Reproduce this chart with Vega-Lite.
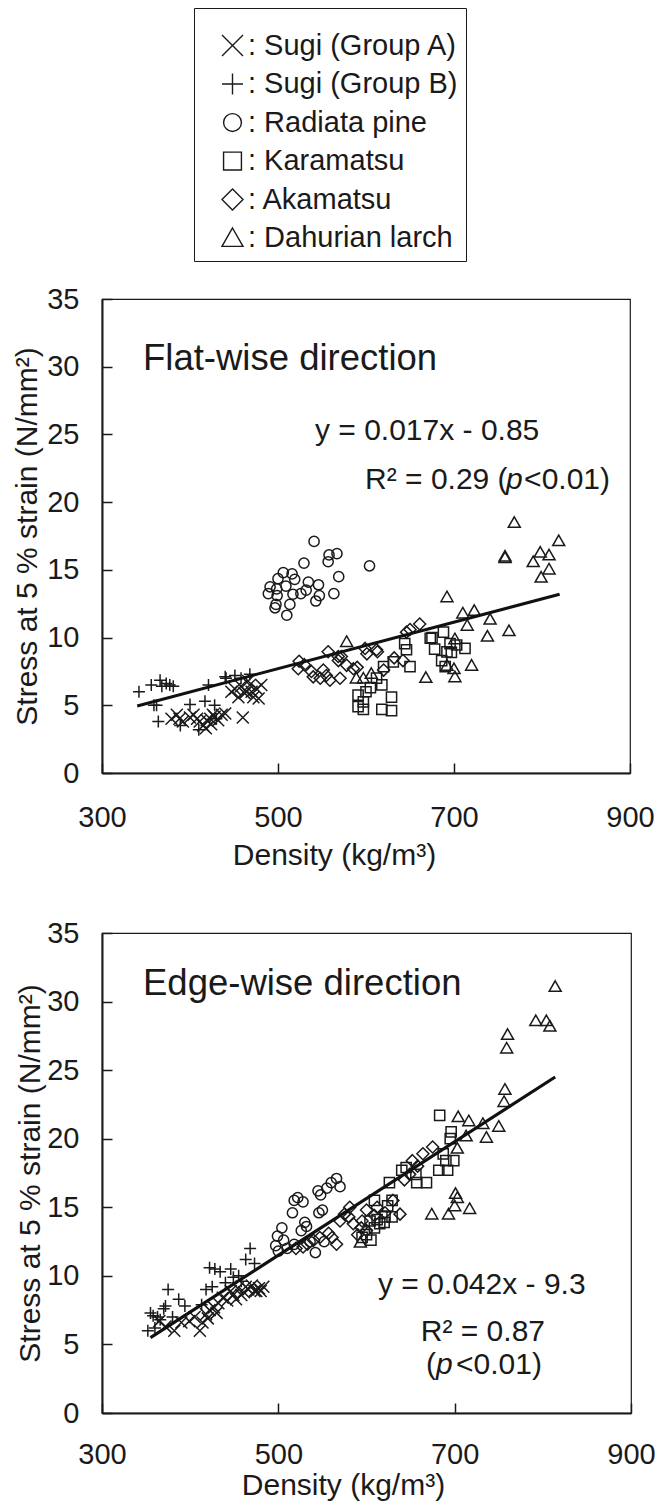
{
  "$schema": "https://vega.github.io/schema/vega-lite/v6.json",
  "padding": {"left": 12, "top": 6, "right": 4, "bottom": 2},
  "config": {
    "font": "Liberation Sans",
    "view": {"stroke": "#1a1a1a", "strokeWidth": 1.2},
    "axis": {"grid": false, "domainColor": "#1a1a1a", "domainWidth": 2, "tickColor": "#1a1a1a", "tickWidth": 1.5, "tickSize": -10, "labelFontSize": 29, "labelColor": "#1a1a1a", "titleFontSize": 30, "titleFontWeight": "normal", "titleColor": "#1a1a1a", "labelFlush": false, "labelOverlap": false},
    "axisY": {"labelPadding": 33}
  },
  "datasets": {
    "flat": [
      {"species": "Sugi (Group A)", "density": 379, "stress": 4.0},
      {"species": "Sugi (Group A)", "density": 385, "stress": 4.3},
      {"species": "Sugi (Group A)", "density": 388, "stress": 4.0},
      {"species": "Sugi (Group A)", "density": 392, "stress": 3.8},
      {"species": "Sugi (Group A)", "density": 400, "stress": 4.1},
      {"species": "Sugi (Group A)", "density": 404, "stress": 4.3},
      {"species": "Sugi (Group A)", "density": 408, "stress": 4.0},
      {"species": "Sugi (Group A)", "density": 411, "stress": 3.8},
      {"species": "Sugi (Group A)", "density": 415, "stress": 3.5},
      {"species": "Sugi (Group A)", "density": 419, "stress": 3.9},
      {"species": "Sugi (Group A)", "density": 423, "stress": 4.0},
      {"species": "Sugi (Group A)", "density": 426, "stress": 4.3},
      {"species": "Sugi (Group A)", "density": 428, "stress": 4.15},
      {"species": "Sugi (Group A)", "density": 432, "stress": 3.9},
      {"species": "Sugi (Group A)", "density": 436, "stress": 4.3},
      {"species": "Sugi (Group A)", "density": 440, "stress": 4.4},
      {"species": "Sugi (Group A)", "density": 418, "stress": 3.3},
      {"species": "Sugi (Group A)", "density": 424, "stress": 3.6},
      {"species": "Sugi (Group A)", "density": 460, "stress": 4.1},
      {"species": "Sugi (Group A)", "density": 447, "stress": 6.0},
      {"species": "Sugi (Group A)", "density": 451, "stress": 6.2},
      {"species": "Sugi (Group A)", "density": 455, "stress": 5.6},
      {"species": "Sugi (Group A)", "density": 458, "stress": 6.4},
      {"species": "Sugi (Group A)", "density": 462, "stress": 5.9},
      {"species": "Sugi (Group A)", "density": 464, "stress": 6.0},
      {"species": "Sugi (Group A)", "density": 466, "stress": 6.8},
      {"species": "Sugi (Group A)", "density": 468, "stress": 6.5},
      {"species": "Sugi (Group A)", "density": 472, "stress": 5.6},
      {"species": "Sugi (Group A)", "density": 476, "stress": 6.2},
      {"species": "Sugi (Group A)", "density": 478, "stress": 5.5},
      {"species": "Sugi (Group A)", "density": 481, "stress": 6.5},
      {"species": "Sugi (Group A)", "density": 470, "stress": 6.0},
      {"species": "Sugi (Group B)", "density": 342, "stress": 6.0},
      {"species": "Sugi (Group B)", "density": 356, "stress": 6.5},
      {"species": "Sugi (Group B)", "density": 366, "stress": 6.85},
      {"species": "Sugi (Group B)", "density": 368, "stress": 6.4},
      {"species": "Sugi (Group B)", "density": 373, "stress": 6.6},
      {"species": "Sugi (Group B)", "density": 377, "stress": 6.5},
      {"species": "Sugi (Group B)", "density": 381, "stress": 6.4},
      {"species": "Sugi (Group B)", "density": 359, "stress": 5.0},
      {"species": "Sugi (Group B)", "density": 362, "stress": 5.0},
      {"species": "Sugi (Group B)", "density": 364, "stress": 3.8},
      {"species": "Sugi (Group B)", "density": 389, "stress": 3.5},
      {"species": "Sugi (Group B)", "density": 400, "stress": 5.05},
      {"species": "Sugi (Group B)", "density": 410, "stress": 3.2},
      {"species": "Sugi (Group B)", "density": 417, "stress": 5.3},
      {"species": "Sugi (Group B)", "density": 421, "stress": 6.5},
      {"species": "Sugi (Group B)", "density": 428, "stress": 5.0},
      {"species": "Sugi (Group B)", "density": 430, "stress": 4.0},
      {"species": "Sugi (Group B)", "density": 440, "stress": 7.1},
      {"species": "Sugi (Group B)", "density": 441, "stress": 7.0},
      {"species": "Sugi (Group B)", "density": 451, "stress": 7.2},
      {"species": "Sugi (Group B)", "density": 458, "stress": 7.0},
      {"species": "Sugi (Group B)", "density": 468, "stress": 7.3},
      {"species": "Radiata pine", "density": 541, "stress": 17.1},
      {"species": "Radiata pine", "density": 529.5, "stress": 15.5},
      {"species": "Radiata pine", "density": 558, "stress": 16.1},
      {"species": "Radiata pine", "density": 567, "stress": 16.2},
      {"species": "Radiata pine", "density": 557, "stress": 15.6},
      {"species": "Radiata pine", "density": 604, "stress": 15.3},
      {"species": "Radiata pine", "density": 569, "stress": 14.5},
      {"species": "Radiata pine", "density": 506, "stress": 14.8},
      {"species": "Radiata pine", "density": 516, "stress": 14.7},
      {"species": "Radiata pine", "density": 500, "stress": 14.35},
      {"species": "Radiata pine", "density": 519, "stress": 14.3},
      {"species": "Radiata pine", "density": 534.5, "stress": 14.1},
      {"species": "Radiata pine", "density": 546, "stress": 13.9},
      {"species": "Radiata pine", "density": 491, "stress": 13.75},
      {"species": "Radiata pine", "density": 509, "stress": 13.8},
      {"species": "Radiata pine", "density": 498.5, "stress": 13.6},
      {"species": "Radiata pine", "density": 489, "stress": 13.25},
      {"species": "Radiata pine", "density": 499, "stress": 13.1},
      {"species": "Radiata pine", "density": 517, "stress": 13.2},
      {"species": "Radiata pine", "density": 526, "stress": 13.25},
      {"species": "Radiata pine", "density": 532, "stress": 13.5},
      {"species": "Radiata pine", "density": 547, "stress": 13.1},
      {"species": "Radiata pine", "density": 563.5, "stress": 13.25},
      {"species": "Radiata pine", "density": 543, "stress": 12.7},
      {"species": "Radiata pine", "density": 513.5, "stress": 12.45},
      {"species": "Radiata pine", "density": 497.7, "stress": 12.45},
      {"species": "Radiata pine", "density": 496.6, "stress": 12.2},
      {"species": "Radiata pine", "density": 510, "stress": 11.65},
      {"species": "Karamatsu", "density": 591, "stress": 5.75},
      {"species": "Karamatsu", "density": 597, "stress": 5.25},
      {"species": "Karamatsu", "density": 591, "stress": 4.9},
      {"species": "Karamatsu", "density": 597, "stress": 4.7},
      {"species": "Karamatsu", "density": 618, "stress": 4.7},
      {"species": "Karamatsu", "density": 629, "stress": 4.6},
      {"species": "Karamatsu", "density": 618, "stress": 6.5},
      {"species": "Karamatsu", "density": 620, "stress": 7.85},
      {"species": "Karamatsu", "density": 629, "stress": 5.6},
      {"species": "Karamatsu", "density": 631, "stress": 8.2},
      {"species": "Karamatsu", "density": 644, "stress": 9.55},
      {"species": "Karamatsu", "density": 646, "stress": 9.1},
      {"species": "Karamatsu", "density": 650, "stress": 7.85},
      {"species": "Karamatsu", "density": 673, "stress": 9.95},
      {"species": "Karamatsu", "density": 675, "stress": 10.0},
      {"species": "Karamatsu", "density": 688, "stress": 10.4},
      {"species": "Karamatsu", "density": 678, "stress": 9.15},
      {"species": "Karamatsu", "density": 692, "stress": 8.95},
      {"species": "Karamatsu", "density": 695.5, "stress": 9.55},
      {"species": "Karamatsu", "density": 697, "stress": 8.9},
      {"species": "Karamatsu", "density": 703, "stress": 9.45},
      {"species": "Karamatsu", "density": 712.5, "stress": 9.2},
      {"species": "Karamatsu", "density": 690, "stress": 7.85},
      {"species": "Karamatsu", "density": 605, "stress": 6.3},
      {"species": "Karamatsu", "density": 612, "stress": 7.0},
      {"species": "Karamatsu", "density": 600, "stress": 6.0},
      {"species": "Karamatsu", "density": 686, "stress": 8.3},
      {"species": "Akamatsu", "density": 523, "stress": 7.7},
      {"species": "Akamatsu", "density": 524, "stress": 8.25},
      {"species": "Akamatsu", "density": 538, "stress": 7.5},
      {"species": "Akamatsu", "density": 540, "stress": 7.1},
      {"species": "Akamatsu", "density": 548, "stress": 7.0},
      {"species": "Akamatsu", "density": 551.5, "stress": 7.6},
      {"species": "Akamatsu", "density": 557, "stress": 8.95},
      {"species": "Akamatsu", "density": 559, "stress": 6.85},
      {"species": "Akamatsu", "density": 568.5, "stress": 8.6},
      {"species": "Akamatsu", "density": 568.6, "stress": 8.3},
      {"species": "Akamatsu", "density": 572, "stress": 8.6},
      {"species": "Akamatsu", "density": 570.5, "stress": 7.0},
      {"species": "Akamatsu", "density": 578, "stress": 7.95},
      {"species": "Akamatsu", "density": 585.6, "stress": 7.7},
      {"species": "Akamatsu", "density": 599, "stress": 9.2},
      {"species": "Akamatsu", "density": 601, "stress": 8.8},
      {"species": "Akamatsu", "density": 612, "stress": 9.1},
      {"species": "Akamatsu", "density": 613, "stress": 8.95},
      {"species": "Akamatsu", "density": 620, "stress": 7.6},
      {"species": "Akamatsu", "density": 642, "stress": 8.3},
      {"species": "Akamatsu", "density": 646, "stress": 10.4},
      {"species": "Akamatsu", "density": 661, "stress": 11.0},
      {"species": "Akamatsu", "density": 530, "stress": 8.0},
      {"species": "Akamatsu", "density": 555, "stress": 7.2},
      {"species": "Akamatsu", "density": 590, "stress": 7.8},
      {"species": "Akamatsu", "density": 632, "stress": 8.5},
      {"species": "Akamatsu", "density": 650, "stress": 10.6},
      {"species": "Dahurian larch", "density": 768.5, "stress": 18.5},
      {"species": "Dahurian larch", "density": 819, "stress": 17.15},
      {"species": "Dahurian larch", "density": 758, "stress": 16.0},
      {"species": "Dahurian larch", "density": 758, "stress": 15.9},
      {"species": "Dahurian larch", "density": 798, "stress": 16.3},
      {"species": "Dahurian larch", "density": 808, "stress": 16.1},
      {"species": "Dahurian larch", "density": 790, "stress": 15.6},
      {"species": "Dahurian larch", "density": 808, "stress": 15.05},
      {"species": "Dahurian larch", "density": 799, "stress": 14.45},
      {"species": "Dahurian larch", "density": 692, "stress": 13.0},
      {"species": "Dahurian larch", "density": 710, "stress": 11.8},
      {"species": "Dahurian larch", "density": 723, "stress": 12.0},
      {"species": "Dahurian larch", "density": 741, "stress": 11.35},
      {"species": "Dahurian larch", "density": 715, "stress": 10.9},
      {"species": "Dahurian larch", "density": 762.5, "stress": 10.5},
      {"species": "Dahurian larch", "density": 738, "stress": 10.1},
      {"species": "Dahurian larch", "density": 720, "stress": 7.95},
      {"species": "Dahurian larch", "density": 668, "stress": 7.05},
      {"species": "Dahurian larch", "density": 578, "stress": 9.7},
      {"species": "Dahurian larch", "density": 701, "stress": 9.9},
      {"species": "Dahurian larch", "density": 700, "stress": 7.7},
      {"species": "Dahurian larch", "density": 701, "stress": 7.1},
      {"species": "Dahurian larch", "density": 692, "stress": 7.95},
      {"species": "Dahurian larch", "density": 606, "stress": 7.35},
      {"species": "Dahurian larch", "density": 589, "stress": 7.0},
      {"species": "Dahurian larch", "density": 597, "stress": 7.0}
    ],
    "edge": [
      {"species": "Sugi (Group A)", "density": 365, "stress": 6.7},
      {"species": "Sugi (Group A)", "density": 372, "stress": 6.3},
      {"species": "Sugi (Group A)", "density": 382, "stress": 6.0},
      {"species": "Sugi (Group A)", "density": 390, "stress": 6.6},
      {"species": "Sugi (Group A)", "density": 399, "stress": 6.7},
      {"species": "Sugi (Group A)", "density": 405, "stress": 7.0},
      {"species": "Sugi (Group A)", "density": 411, "stress": 6.0},
      {"species": "Sugi (Group A)", "density": 414, "stress": 6.6},
      {"species": "Sugi (Group A)", "density": 418, "stress": 7.2},
      {"species": "Sugi (Group A)", "density": 420, "stress": 6.9},
      {"species": "Sugi (Group A)", "density": 422, "stress": 7.5},
      {"species": "Sugi (Group A)", "density": 427, "stress": 7.7},
      {"species": "Sugi (Group A)", "density": 430, "stress": 7.3},
      {"species": "Sugi (Group A)", "density": 432, "stress": 8.0},
      {"species": "Sugi (Group A)", "density": 437, "stress": 8.4},
      {"species": "Sugi (Group A)", "density": 442, "stress": 8.2},
      {"species": "Sugi (Group A)", "density": 446, "stress": 8.9},
      {"species": "Sugi (Group A)", "density": 449, "stress": 8.6},
      {"species": "Sugi (Group A)", "density": 452, "stress": 8.3},
      {"species": "Sugi (Group A)", "density": 454, "stress": 9.1},
      {"species": "Sugi (Group A)", "density": 458, "stress": 8.6},
      {"species": "Sugi (Group A)", "density": 461, "stress": 8.8},
      {"species": "Sugi (Group A)", "density": 463, "stress": 9.2},
      {"species": "Sugi (Group A)", "density": 466, "stress": 9.0},
      {"species": "Sugi (Group A)", "density": 470, "stress": 9.3},
      {"species": "Sugi (Group A)", "density": 473, "stress": 8.9},
      {"species": "Sugi (Group A)", "density": 475, "stress": 8.9},
      {"species": "Sugi (Group A)", "density": 478, "stress": 9.1},
      {"species": "Sugi (Group A)", "density": 480, "stress": 8.9},
      {"species": "Sugi (Group A)", "density": 483, "stress": 9.2},
      {"species": "Sugi (Group B)", "density": 352, "stress": 6.0},
      {"species": "Sugi (Group B)", "density": 355, "stress": 7.3},
      {"species": "Sugi (Group B)", "density": 358, "stress": 7.1},
      {"species": "Sugi (Group B)", "density": 360, "stress": 6.2},
      {"species": "Sugi (Group B)", "density": 363, "stress": 7.0},
      {"species": "Sugi (Group B)", "density": 366, "stress": 6.8},
      {"species": "Sugi (Group B)", "density": 370, "stress": 7.6},
      {"species": "Sugi (Group B)", "density": 372, "stress": 7.8},
      {"species": "Sugi (Group B)", "density": 375, "stress": 9.0},
      {"species": "Sugi (Group B)", "density": 380, "stress": 7.0},
      {"species": "Sugi (Group B)", "density": 387, "stress": 8.3},
      {"species": "Sugi (Group B)", "density": 394, "stress": 7.8},
      {"species": "Sugi (Group B)", "density": 413, "stress": 7.9},
      {"species": "Sugi (Group B)", "density": 418, "stress": 9.0},
      {"species": "Sugi (Group B)", "density": 422, "stress": 10.6},
      {"species": "Sugi (Group B)", "density": 425, "stress": 9.2},
      {"species": "Sugi (Group B)", "density": 428, "stress": 10.5},
      {"species": "Sugi (Group B)", "density": 434, "stress": 10.3},
      {"species": "Sugi (Group B)", "density": 440, "stress": 9.5},
      {"species": "Sugi (Group B)", "density": 446, "stress": 10.5},
      {"species": "Sugi (Group B)", "density": 449, "stress": 9.9},
      {"species": "Sugi (Group B)", "density": 455, "stress": 10.0},
      {"species": "Sugi (Group B)", "density": 458, "stress": 9.6},
      {"species": "Sugi (Group B)", "density": 463, "stress": 11.2},
      {"species": "Sugi (Group B)", "density": 468, "stress": 12.0},
      {"species": "Sugi (Group B)", "density": 473, "stress": 10.9},
      {"species": "Radiata pine", "density": 518, "stress": 15.5},
      {"species": "Radiata pine", "density": 522, "stress": 15.7},
      {"species": "Radiata pine", "density": 528, "stress": 15.4},
      {"species": "Radiata pine", "density": 516, "stress": 14.6},
      {"species": "Radiata pine", "density": 550, "stress": 14.8},
      {"species": "Radiata pine", "density": 546, "stress": 14.6},
      {"species": "Radiata pine", "density": 530, "stress": 13.9},
      {"species": "Radiata pine", "density": 532, "stress": 13.6},
      {"species": "Radiata pine", "density": 526, "stress": 13.3},
      {"species": "Radiata pine", "density": 504, "stress": 13.5},
      {"species": "Radiata pine", "density": 499, "stress": 12.9},
      {"species": "Radiata pine", "density": 506, "stress": 12.6},
      {"species": "Radiata pine", "density": 518, "stress": 12.3},
      {"species": "Radiata pine", "density": 542, "stress": 11.7},
      {"species": "Radiata pine", "density": 552, "stress": 12.5},
      {"species": "Radiata pine", "density": 500, "stress": 11.8},
      {"species": "Radiata pine", "density": 497, "stress": 12.2},
      {"species": "Radiata pine", "density": 510, "stress": 12.0},
      {"species": "Radiata pine", "density": 536, "stress": 12.5},
      {"species": "Radiata pine", "density": 560, "stress": 16.8},
      {"species": "Radiata pine", "density": 566, "stress": 17.1},
      {"species": "Radiata pine", "density": 570, "stress": 16.5},
      {"species": "Radiata pine", "density": 548, "stress": 15.9},
      {"species": "Radiata pine", "density": 545, "stress": 16.2},
      {"species": "Radiata pine", "density": 555, "stress": 16.4},
      {"species": "Karamatsu", "density": 595, "stress": 12.8},
      {"species": "Karamatsu", "density": 600, "stress": 13.0},
      {"species": "Karamatsu", "density": 604, "stress": 14.0},
      {"species": "Karamatsu", "density": 605, "stress": 12.6},
      {"species": "Karamatsu", "density": 609, "stress": 13.5},
      {"species": "Karamatsu", "density": 609, "stress": 15.5},
      {"species": "Karamatsu", "density": 612, "stress": 14.1},
      {"species": "Karamatsu", "density": 615, "stress": 13.8},
      {"species": "Karamatsu", "density": 620, "stress": 13.9},
      {"species": "Karamatsu", "density": 621, "stress": 14.3},
      {"species": "Karamatsu", "density": 624, "stress": 15.1},
      {"species": "Karamatsu", "density": 629, "stress": 15.5},
      {"species": "Karamatsu", "density": 629, "stress": 14.3},
      {"species": "Karamatsu", "density": 626, "stress": 16.8},
      {"species": "Karamatsu", "density": 640, "stress": 17.7},
      {"species": "Karamatsu", "density": 645, "stress": 17.9},
      {"species": "Karamatsu", "density": 657, "stress": 16.8},
      {"species": "Karamatsu", "density": 656, "stress": 17.4},
      {"species": "Karamatsu", "density": 668, "stress": 16.8},
      {"species": "Karamatsu", "density": 682, "stress": 17.7},
      {"species": "Karamatsu", "density": 692, "stress": 17.7},
      {"species": "Karamatsu", "density": 687, "stress": 18.9},
      {"species": "Karamatsu", "density": 690, "stress": 18.4},
      {"species": "Karamatsu", "density": 699, "stress": 18.4},
      {"species": "Karamatsu", "density": 695, "stress": 20.0},
      {"species": "Karamatsu", "density": 696, "stress": 20.5},
      {"species": "Karamatsu", "density": 683, "stress": 21.7},
      {"species": "Akamatsu", "density": 520, "stress": 12.0},
      {"species": "Akamatsu", "density": 528, "stress": 12.1},
      {"species": "Akamatsu", "density": 533, "stress": 12.3},
      {"species": "Akamatsu", "density": 540, "stress": 12.6},
      {"species": "Akamatsu", "density": 547, "stress": 12.8},
      {"species": "Akamatsu", "density": 557, "stress": 13.1},
      {"species": "Akamatsu", "density": 561, "stress": 12.8},
      {"species": "Akamatsu", "density": 566, "stress": 12.3},
      {"species": "Akamatsu", "density": 570, "stress": 14.0},
      {"species": "Akamatsu", "density": 575, "stress": 14.5},
      {"species": "Akamatsu", "density": 581, "stress": 15.0},
      {"species": "Akamatsu", "density": 580, "stress": 14.3},
      {"species": "Akamatsu", "density": 585, "stress": 13.8},
      {"species": "Akamatsu", "density": 590, "stress": 13.0},
      {"species": "Akamatsu", "density": 594, "stress": 13.5},
      {"species": "Akamatsu", "density": 595, "stress": 14.0},
      {"species": "Akamatsu", "density": 600, "stress": 13.3},
      {"species": "Akamatsu", "density": 600, "stress": 14.8},
      {"species": "Akamatsu", "density": 609, "stress": 14.4},
      {"species": "Akamatsu", "density": 612, "stress": 15.0},
      {"species": "Akamatsu", "density": 621, "stress": 14.6},
      {"species": "Akamatsu", "density": 630, "stress": 15.5},
      {"species": "Akamatsu", "density": 638, "stress": 14.5},
      {"species": "Akamatsu", "density": 643, "stress": 17.0},
      {"species": "Akamatsu", "density": 649, "stress": 17.4},
      {"species": "Akamatsu", "density": 652, "stress": 18.4},
      {"species": "Akamatsu", "density": 658, "stress": 18.0},
      {"species": "Akamatsu", "density": 664, "stress": 18.9},
      {"species": "Akamatsu", "density": 675, "stress": 19.4},
      {"species": "Dahurian larch", "density": 593, "stress": 12.45},
      {"species": "Dahurian larch", "density": 674, "stress": 14.5},
      {"species": "Dahurian larch", "density": 693, "stress": 14.5},
      {"species": "Dahurian larch", "density": 700, "stress": 15.1},
      {"species": "Dahurian larch", "density": 703, "stress": 15.7},
      {"species": "Dahurian larch", "density": 701, "stress": 16.0},
      {"species": "Dahurian larch", "density": 717, "stress": 14.9},
      {"species": "Dahurian larch", "density": 703, "stress": 19.3},
      {"species": "Dahurian larch", "density": 713, "stress": 20.2},
      {"species": "Dahurian larch", "density": 736, "stress": 20.1},
      {"species": "Dahurian larch", "density": 704, "stress": 21.6},
      {"species": "Dahurian larch", "density": 716, "stress": 21.3},
      {"species": "Dahurian larch", "density": 732, "stress": 21.1},
      {"species": "Dahurian larch", "density": 750, "stress": 20.9},
      {"species": "Dahurian larch", "density": 756, "stress": 22.7},
      {"species": "Dahurian larch", "density": 757, "stress": 23.6},
      {"species": "Dahurian larch", "density": 759, "stress": 26.6},
      {"species": "Dahurian larch", "density": 760, "stress": 27.6},
      {"species": "Dahurian larch", "density": 792, "stress": 28.6},
      {"species": "Dahurian larch", "density": 804, "stress": 28.6},
      {"species": "Dahurian larch", "density": 808, "stress": 28.2},
      {"species": "Dahurian larch", "density": 814, "stress": 31.1}
    ],
    "flatLine": [
      {"density": 340, "stress": 4.95},
      {"density": 820, "stress": 13.2}
    ],
    "edgeLine": [
      {"density": 355, "stress": 5.5},
      {"density": 814, "stress": 24.5}
    ],
    "flatNotes": [
      {"role": "title", "label": "Flat-wise direction", "density": 346.6, "stress": 29.75},
      {"role": "left", "label": "y = 0.017x - 0.85", "density": 542, "stress": 24.56},
      {"role": "left", "label": "R² = 0.29 (", "density": 598.9, "stress": 21.0},
      {"role": "italic", "label": "p", "density": 759, "stress": 21.0},
      {"role": "right", "label": "<0.01)", "density": 877.3, "stress": 21.0}
    ],
    "edgeNotes": [
      {"role": "title", "label": "Edge-wise direction", "density": 346.5, "stress": 30.45},
      {"role": "left", "label": "y = 0.042x - 9.3", "density": 613, "stress": 8.65},
      {"role": "center", "label": "R² = 0.87", "density": 732, "stress": 5.22},
      {"role": "left", "label": "(", "density": 667.5, "stress": 2.81},
      {"role": "italic", "label": "p", "density": 678.8, "stress": 2.81},
      {"role": "right", "label": "<0.01)", "density": 799, "stress": 2.81}
    ]
  },
  "spacing": 47,
  "resolve": {"scale": {"shape": "independent"}, "legend": {"shape": "independent"}},
  "vconcat": [
    {
      "width": 528,
      "height": 474,
      "encoding": {
        "x": {"field": "density", "type": "quantitative", "scale": {"domain": [300, 900], "nice": false, "zero": false}, "axis": {"title": "Density (kg/m³)", "values": [300, 500, 700, 900], "labelPadding": 40, "titlePadding": 8, "titleX": 232}},
        "y": {"field": "stress", "type": "quantitative", "scale": {"domain": [0, 35], "nice": false}, "axis": {"title": "Stress at 5 % strain (N/mm²)", "values": [0, 5, 10, 15, 20, 25, 30, 35], "titlePadding": 4}}
      },
      "layer": [
        {
          "data": {"name": "flat"},
          "mark": {"type": "point", "filled": false, "size": 144, "strokeWidth": 1.5, "color": "#1a1a1a", "opacity": 1},
          "encoding": {
            "shape": {
              "field": "species", "type": "nominal",
              "scale": {
                "domain": ["Sugi (Group A)", "Sugi (Group B)", "Radiata pine", "Karamatsu", "Akamatsu", "Dahurian larch"],
                "range": ["M-1,-1L1,1M-1,1L1,-1", "M-1,0L1,0M0,-1L0,1", "M0.85,0A0.85,0.85,0,1,1,-0.85,0A0.85,0.85,0,1,1,0.85,0Z", "M-0.85,-0.85L0.85,-0.85L0.85,0.85L-0.85,0.85Z", "M0,-1L1,0L0,1L-1,0Z", "M0,-0.95L1,0.8L-1,0.8Z"]
              },
              "legend": {
                "orient": "none", "legendX": 92, "legendY": -291,
                "title": " ", "titleFontSize": 10, "titlePadding": 5,
                "labelFontSize": 29, "labelColor": "#1a1a1a", "labelLimit": 400, "labelOffset": 1,
                "labelExpr": "': ' + datum.label",
                "symbolSize": 441, "symbolStrokeWidth": 1.4, "symbolStrokeColor": "#1a1a1a", "symbolFillColor": "transparent", "symbolOffset": 16,
                "rowPadding": 8.5, "padding": 8, "strokeColor": "#1a1a1a", "fillColor": "white",
                "encode": {"legend": {"update": {"strokeWidth": {"value": 2}}}}
              }
            }
          }
        },
        {
          "data": {"name": "flatLine"},
          "mark": {"type": "line", "strokeWidth": 3, "color": "#111111"},
          "encoding": {}
        },
        {
          "data": {"name": "flatNotes"},
          "transform": [{"filter": "datum.role === 'title'"}],
          "mark": {"type": "text", "fontSize": 36.5, "align": "left", "baseline": "alphabetic", "color": "#1a1a1a"},
          "encoding": {"text": {"field": "label"}}
        },
        {
          "data": {"name": "flatNotes"},
          "transform": [{"filter": "datum.role === 'left'"}],
          "mark": {"type": "text", "fontSize": 30, "align": "left", "baseline": "alphabetic", "color": "#1a1a1a"},
          "encoding": {"text": {"field": "label"}}
        },
        {
          "data": {"name": "flatNotes"},
          "transform": [{"filter": "datum.role === 'italic'"}],
          "mark": {"type": "text", "fontSize": 30, "fontStyle": "italic", "align": "left", "baseline": "alphabetic", "color": "#1a1a1a"},
          "encoding": {"text": {"field": "label"}}
        },
        {
          "data": {"name": "flatNotes"},
          "transform": [{"filter": "datum.role === 'right'"}],
          "mark": {"type": "text", "fontSize": 30, "align": "right", "baseline": "alphabetic", "color": "#1a1a1a"},
          "encoding": {"text": {"field": "label"}}
        }
      ]
    },
    {
      "width": 529,
      "height": 480,
      "encoding": {
        "x": {"field": "density", "type": "quantitative", "scale": {"domain": [300, 900], "nice": false, "zero": false}, "axis": {"title": "Density (kg/m³)", "values": [300, 500, 700, 900], "labelPadding": 37, "titlePadding": 1, "titleX": 241}},
        "y": {"field": "stress", "type": "quantitative", "scale": {"domain": [0, 35], "nice": false}, "axis": {"title": "Stress at 5 % strain (N/mm²)", "values": [0, 5, 10, 15, 20, 25, 30, 35], "titlePadding": 1}}
      },
      "layer": [
        {
          "data": {"name": "edge"},
          "mark": {"type": "point", "filled": false, "size": 144, "strokeWidth": 1.5, "color": "#1a1a1a", "opacity": 1},
          "encoding": {
            "shape": {
              "field": "species", "type": "nominal",
              "scale": {
                "domain": ["Sugi (Group A)", "Sugi (Group B)", "Radiata pine", "Karamatsu", "Akamatsu", "Dahurian larch"],
                "range": ["M-1,-1L1,1M-1,1L1,-1", "M-1,0L1,0M0,-1L0,1", "M0.85,0A0.85,0.85,0,1,1,-0.85,0A0.85,0.85,0,1,1,0.85,0Z", "M-0.85,-0.85L0.85,-0.85L0.85,0.85L-0.85,0.85Z", "M0,-1L1,0L0,1L-1,0Z", "M0,-0.95L1,0.8L-1,0.8Z"]
              },
              "legend": null
            }
          }
        },
        {
          "data": {"name": "edgeLine"},
          "mark": {"type": "line", "strokeWidth": 3.2, "color": "#111111"},
          "encoding": {}
        },
        {
          "data": {"name": "edgeNotes"},
          "transform": [{"filter": "datum.role === 'title'"}],
          "mark": {"type": "text", "fontSize": 36.5, "align": "left", "baseline": "alphabetic", "color": "#1a1a1a"},
          "encoding": {"text": {"field": "label"}}
        },
        {
          "data": {"name": "edgeNotes"},
          "transform": [{"filter": "datum.role === 'left'"}],
          "mark": {"type": "text", "fontSize": 30, "align": "left", "baseline": "alphabetic", "color": "#1a1a1a"},
          "encoding": {"text": {"field": "label"}}
        },
        {
          "data": {"name": "edgeNotes"},
          "transform": [{"filter": "datum.role === 'center'"}],
          "mark": {"type": "text", "fontSize": 30, "align": "center", "baseline": "alphabetic", "color": "#1a1a1a"},
          "encoding": {"text": {"field": "label"}}
        },
        {
          "data": {"name": "edgeNotes"},
          "transform": [{"filter": "datum.role === 'italic'"}],
          "mark": {"type": "text", "fontSize": 30, "fontStyle": "italic", "align": "left", "baseline": "alphabetic", "color": "#1a1a1a"},
          "encoding": {"text": {"field": "label"}}
        },
        {
          "data": {"name": "edgeNotes"},
          "transform": [{"filter": "datum.role === 'right'"}],
          "mark": {"type": "text", "fontSize": 30, "align": "right", "baseline": "alphabetic", "color": "#1a1a1a"},
          "encoding": {"text": {"field": "label"}}
        }
      ]
    }
  ]
}
